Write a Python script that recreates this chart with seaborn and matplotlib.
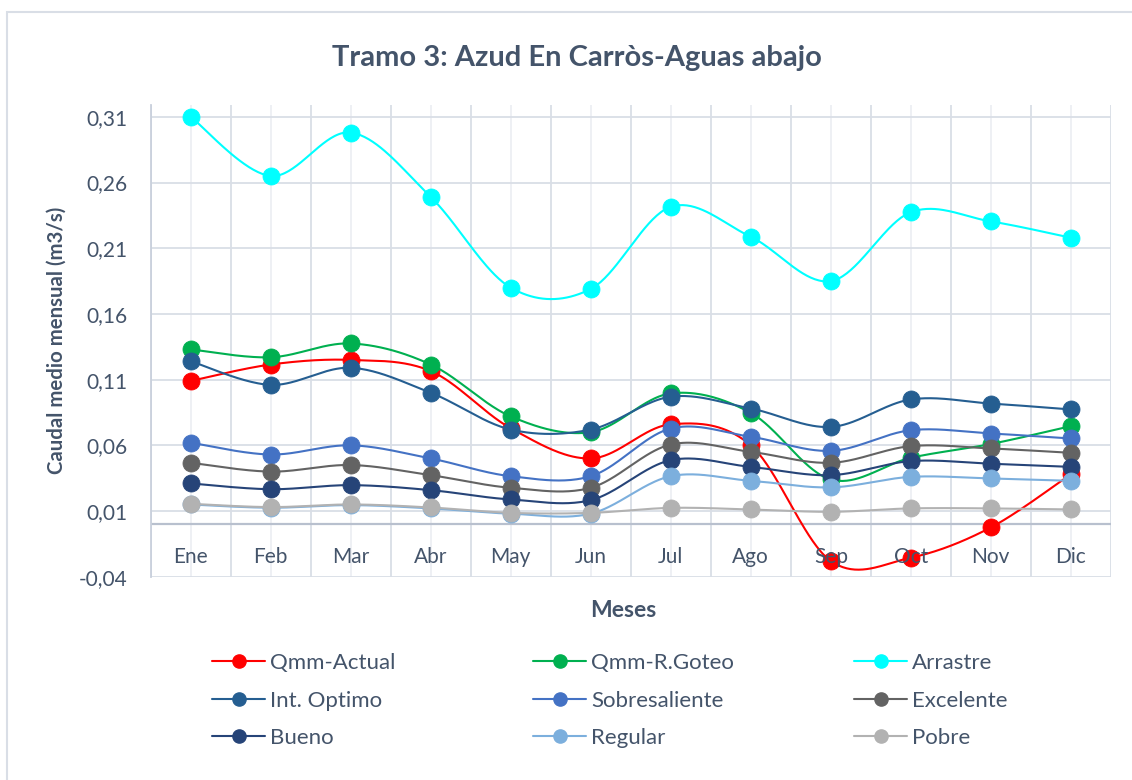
import numpy as np
import pandas as pd
import matplotlib
matplotlib.use("Agg")
import matplotlib.pyplot as plt
import seaborn as sns
from matplotlib.lines import Line2D
from matplotlib.patches import Rectangle

# ---- data -------------------------------------------------------------
months = ["Ene", "Feb", "Mar", "Abr", "May", "Jun",
          "Jul", "Ago", "Sep", "Oct", "Nov", "Dic"]

qmm_actual = [0.109, 0.1215, 0.125, 0.1165, 0.073, 0.050,
              0.076, 0.060, -0.028, -0.0255, -0.0025, 0.038]
qmm_goteo = [0.133, 0.127, 0.1375, 0.1215, 0.082, 0.070,
             0.0995, 0.0847, 0.034, 0.0505, 0.061, 0.0746]
arrastre = [0.310, 0.265, 0.298, 0.249, 0.180, 0.179,
            0.2415, 0.2187, 0.185, 0.2374, 0.2304, 0.218]
int_optimo = [0.124, 0.106, 0.119, 0.100, 0.072, 0.072,
              0.097, 0.088, 0.074, 0.0949, 0.0918, 0.0873]
sobresaliente = [0.062, 0.053, 0.060, 0.050, 0.0365, 0.0365,
                 0.0728, 0.0665, 0.0558, 0.0715, 0.069, 0.0652]
excelente = [0.0467, 0.040, 0.045, 0.0373, 0.0277, 0.0277,
             0.0606, 0.055, 0.0467, 0.0594, 0.0576, 0.0543]
bueno = [0.031, 0.0266, 0.0297, 0.0259, 0.0188, 0.0183,
         0.0487, 0.0436, 0.0373, 0.048, 0.046, 0.0436]
regular = [0.0150, 0.0125, 0.0145, 0.0120, 0.0080, 0.0080,
           0.0365, 0.033, 0.028, 0.036, 0.0348, 0.033]
pobre = [0.0155, 0.013, 0.015, 0.0127, 0.0086, 0.0086,
         0.0124, 0.0112, 0.0094, 0.012, 0.012, 0.0112]

series_names = ["Qmm-Actual", "Qmm-R.Goteo", "Arrastre", "Int. Optimo",
                "Sobresaliente", "Excelente", "Bueno", "Regular", "Pobre"]
series_values = [qmm_actual, qmm_goteo, arrastre, int_optimo,
                 sobresaliente, excelente, bueno, regular, pobre]
colors = ["#FF0000", "#00B050", "#00FFFF", "#255E91", "#4472C4",
          "#636363", "#264478", "#7CAFDD", "#B2B2B2"]

title = "Tramo 3: Azud En Carròs-Aguas abajo"
y_label = "Caudal medio mensual (m3/s)"
x_label = "Meses"
y_ticks = [-0.04, 0.01, 0.06, 0.11, 0.16, 0.21, 0.26, 0.31]

TEXT = "#44546A"
GRID = "#D9DEE6"


def smooth_curve(xs, ys, n=40):
    """Catmull-Rom style cubic Bezier through every point (smoothed line)."""
    pts = np.column_stack([xs, ys]).astype(float)
    segs = []
    last = len(pts) - 1
    for i in range(last):
        p0 = pts[max(i - 1, 0)]
        p1 = pts[i]
        p2 = pts[i + 1]
        p3 = pts[min(i + 2, last)]
        c1 = p1 + (p2 - p0) / 6.0
        c2 = p2 - (p3 - p1) / 6.0
        t = np.linspace(0, 1, n, endpoint=(i == last - 1))[:, None]
        b = ((1 - t) ** 3) * p1 + 3 * ((1 - t) ** 2) * t * c1 \
            + 3 * (1 - t) * (t ** 2) * c2 + (t ** 3) * p2
        segs.append(b)
    return np.vstack(segs)


long_df = pd.DataFrame({
    "serie": np.repeat(series_names, len(months)),
    "mes": months * len(series_names),
    "x": list(range(len(months))) * len(series_names),
    "caudal": np.concatenate(series_values),
})

sns.set_theme(style="white")
plt.rcParams["font.family"] = ["Lato", "DejaVu Sans"]

fig = plt.figure(figsize=(11.32, 7.80), dpi=100)
ax = fig.add_axes([0.1331, 0.2606, 0.8482, 0.6048])

# outer chart frame
fig.patches.append(Rectangle((7 / 1132, -0.05), 1.2, 1 - 12 / 780 + 0.05,
                             transform=fig.transFigure, fill=False,
                             edgecolor="#D9DEE6", linewidth=1.5, zorder=0))

# series: smoothed line + markers, later series drawn on top
for k, (name, color) in enumerate(zip(series_names, colors)):
    sub = long_df[long_df["serie"] == name]
    curve = smooth_curve(sub["x"].values, sub["caudal"].values)
    ax.plot(curve[:, 0], curve[:, 1], color=color, lw=1.5,
            solid_capstyle="round", zorder=3 + 2 * k)
    sns.scatterplot(data=sub, x="x", y="caudal", ax=ax, color=color,
                    s=150, edgecolor=color, linewidth=0.6,
                    legend=False, zorder=4 + 2 * k)

ax.set_xlim(-0.5, len(months) - 0.5)
ax.set_ylim(-0.04, 0.319)

ax.set_yticks(y_ticks)
ax.set_yticklabels([f"{v:.2f}".replace(".", ",") for v in y_ticks],
                   fontsize=15, color=TEXT)
ax.tick_params(axis="y", length=0, pad=16.5)

ax.set_xticks(np.arange(-0.5, len(months), 1.0))
ax.set_xticks(np.arange(len(months)), minor=True)
ax.tick_params(axis="x", which="both", length=0, labelbottom=False)
ax.grid(True, which="major", color=GRID, lw=1.3, zorder=0)
ax.grid(True, which="minor", axis="x", color="#E9ECF1", lw=1.1, zorder=0)
ax.set_axisbelow(True)

for s in ["top", "right", "bottom"]:
    ax.spines[s].set_visible(False)
ax.spines["left"].set_color("#C9D0DC")
ax.spines["left"].set_linewidth(1.3)

# horizontal axis line at zero with month labels below it
ax.axhline(0, color="#B8C0CE", lw=1.6, zorder=2)
for i, m in enumerate(months):
    ax.text(i, -0.025, m, ha="center", va="center", fontsize=15,
            color=TEXT, zorder=30)

ax.set_xlabel("")
ax.set_ylabel("")
fig.text(0.5097, 0.926, title, ha="center", va="center", fontsize=21,
         fontweight="bold", color=TEXT)
fig.text(0.0499, 0.564, y_label, ha="center", va="center", rotation=90,
         fontsize=14.7, fontweight="bold", color=TEXT)
fig.text(0.551, 0.217, x_label, ha="center", va="center", fontsize=16.5,
         fontweight="bold", color=TEXT)

# legend: three columns of three entries
handles = [Line2D([0], [0], color=c, lw=1.5, marker="o", markersize=9.5,
                  markerfacecolor=c, markeredgecolor=c) for c in colors]
col_x = [212, 533, 854]
for j in range(3):
    idx = [j, j + 3, j + 6]
    fig.legend([handles[i] for i in idx], [series_names[i] for i in idx],
               loc="center left", bbox_to_anchor=(col_x[j] / 1132, 0.1019),
               frameon=False, fontsize=16, labelcolor=TEXT,
               handlelength=2.4, handletextpad=0.22, labelspacing=0.78,
               borderpad=0, borderaxespad=0)

fig.savefig("out.png", dpi=100, facecolor="white")
